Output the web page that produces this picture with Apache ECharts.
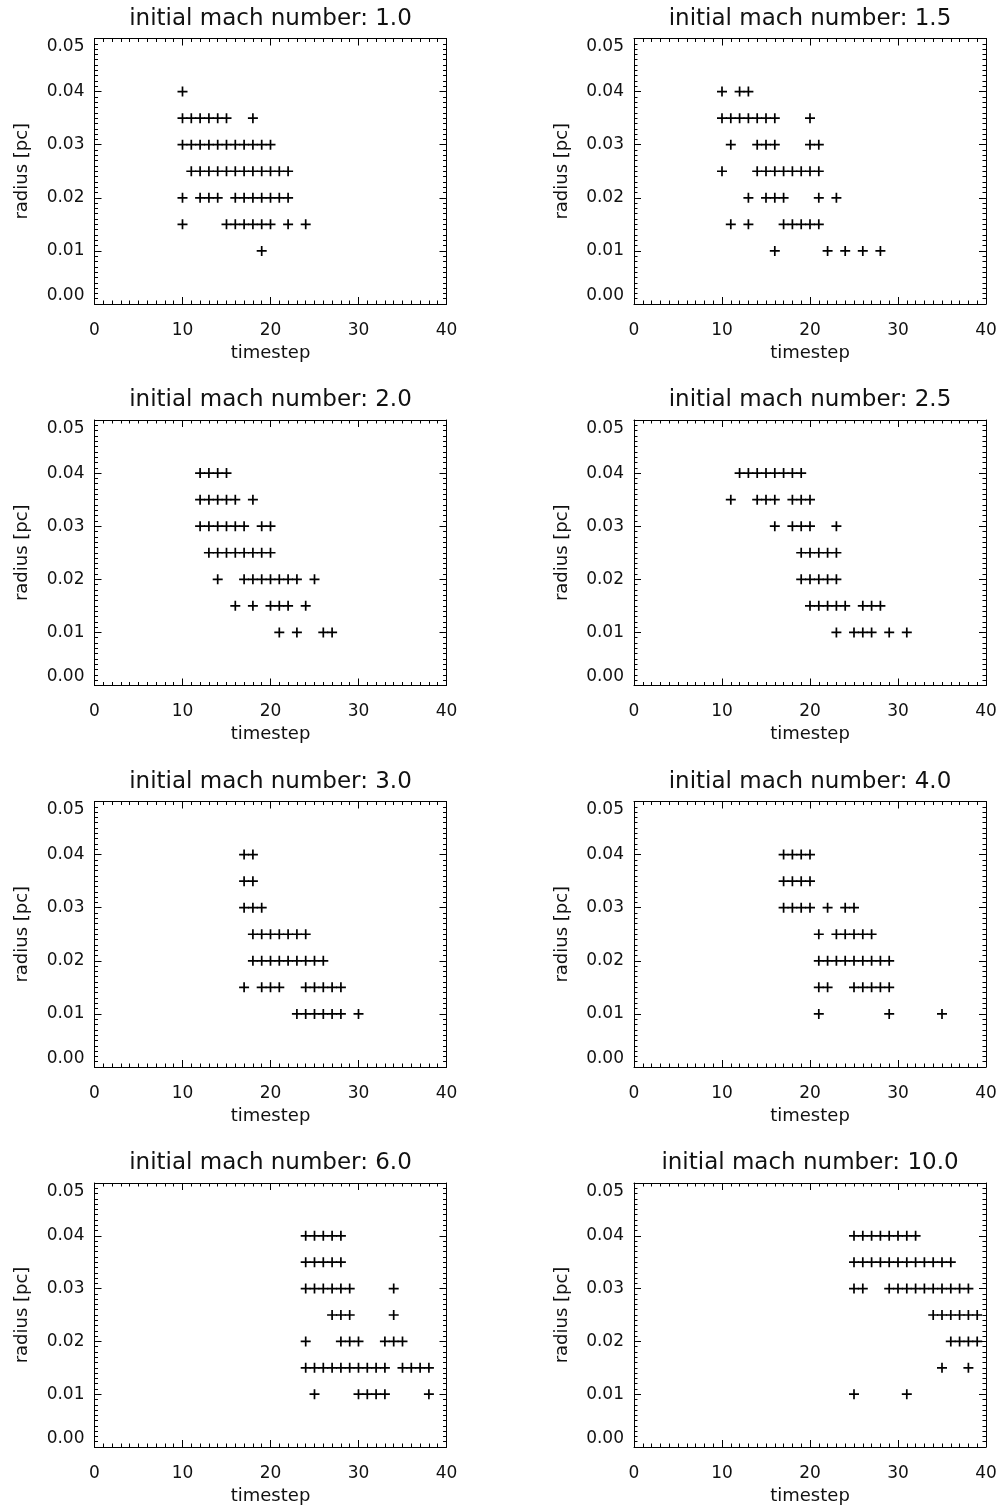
<!DOCTYPE html>
<html>
<head>
<meta charset="utf-8">
<script src="https://cdn.jsdelivr.net/npm/echarts@6/dist/echarts.min.js"></script>
<style>
html,body{margin:0;padding:0;background:#fff;}
#chart{width:1002px;height:1506px;}
</style>
</head>
<body>
<div id="chart"></div>
<script>
// Radius levels (pc), one row of markers per level, top to bottom
const radii = [0.04, 0.035, 0.03, 0.025, 0.02, 0.015, 0.01];
const machLabels = ['1.0', '1.5', '2.0', '2.5', '3.0', '4.0', '6.0', '10.0'];
const xTicks = [0, 10, 20, 30, 40];
const yTicks = [0.00, 0.01, 0.02, 0.03, 0.04, 0.05];

// Timesteps with a marker, per radius level (same order as radii)
const mach_1_0 = [
  [10],
  [10, 11, 12, 13, 14, 15, 18],
  [10, 11, 12, 13, 14, 15, 16, 17, 18, 19, 20],
  [11, 12, 13, 14, 15, 16, 17, 18, 19, 20, 21, 22],
  [10, 12, 13, 14, 16, 17, 18, 19, 20, 21, 22],
  [10, 15, 16, 17, 18, 19, 20, 22, 24],
  [19]
];
const mach_1_5 = [
  [10, 12, 13],
  [10, 11, 12, 13, 14, 15, 16, 20],
  [11, 14, 15, 16, 20, 21],
  [10, 14, 15, 16, 17, 18, 19, 20, 21],
  [13, 15, 16, 17, 21, 23],
  [11, 13, 17, 18, 19, 20, 21],
  [16, 22, 24, 26, 28]
];
const mach_2_0 = [
  [12, 13, 14, 15],
  [12, 13, 14, 15, 16, 18],
  [12, 13, 14, 15, 16, 17, 19, 20],
  [13, 14, 15, 16, 17, 18, 19, 20],
  [14, 17, 18, 19, 20, 21, 22, 23, 25],
  [16, 18, 20, 21, 22, 24],
  [21, 23, 26, 27]
];
const mach_2_5 = [
  [12, 13, 14, 15, 16, 17, 18, 19],
  [11, 14, 15, 16, 18, 19, 20],
  [16, 18, 19, 20, 23],
  [19, 20, 21, 22, 23],
  [19, 20, 21, 22, 23],
  [20, 21, 22, 23, 24, 26, 27, 28],
  [23, 25, 26, 27, 29, 31]
];
const mach_3_0 = [
  [17, 18],
  [17, 18],
  [17, 18, 19],
  [18, 19, 20, 21, 22, 23, 24],
  [18, 19, 20, 21, 22, 23, 24, 25, 26],
  [17, 19, 20, 21, 24, 25, 26, 27, 28],
  [23, 24, 25, 26, 27, 28, 30]
];
const mach_4_0 = [
  [17, 18, 19, 20],
  [17, 18, 19, 20],
  [17, 18, 19, 20, 22, 24, 25],
  [21, 23, 24, 25, 26, 27],
  [21, 22, 23, 24, 25, 26, 27, 28, 29],
  [21, 22, 25, 26, 27, 28, 29],
  [21, 29, 35]
];
const mach_6_0 = [
  [24, 25, 26, 27, 28],
  [24, 25, 26, 27, 28],
  [24, 25, 26, 27, 28, 29, 34],
  [27, 28, 29, 34],
  [24, 28, 29, 30, 33, 34, 35],
  [24, 25, 26, 27, 28, 29, 30, 31, 32, 33, 35, 36, 37, 38],
  [25, 30, 31, 32, 33, 38]
];
const mach_10_0 = [
  [25, 26, 27, 28, 29, 30, 31, 32],
  [25, 26, 27, 28, 29, 30, 31, 32, 33, 34, 35, 36],
  [25, 26, 29, 30, 31, 32, 33, 34, 35, 36, 37, 38],
  [34, 35, 36, 37, 38, 39],
  [36, 37, 38, 39],
  [35, 38],
  [25, 31]
];
const panels = [mach_1_0, mach_1_5, mach_2_0, mach_2_5, mach_3_0, mach_4_0, mach_6_0, mach_10_0];

// ---- layout ----
const colLeft = [94.5, 634];
const rowTop = [38.5, 420, 801.5, 1183];
const plotW = 352, plotH = 265.5;
const FONT = 'DejaVu Sans';
const TXT = '#111';
const PLUS = 'path://M-0.17,-1L0.17,-1L0.17,-0.17L1,-0.17L1,0.17L0.17,0.17L0.17,1L-0.17,1L-0.17,0.17L-1,0.17L-1,-0.17L-0.17,-0.17Z';

const grids = [], xAxes = [], yAxes = [], series = [], titles = [];

function baseAxis(gi, min, max, interval) {
  return {
    gridIndex: gi, type: 'value', min: min, max: max, interval: interval,
    axisLine: { show: true, onZero: false, lineStyle: { color: '#000', width: 1 } },
    axisTick: { show: true, inside: true, length: 7, lineStyle: { color: '#000', width: 1 } },
    minorTick: { show: true, splitNumber: 10, length: 3.5, lineStyle: { color: '#000', width: 1 } },
    splitLine: { show: false },
    minorSplitLine: { show: false }
  };
}

panels.forEach(function (rows, i) {
  const col = i % 2, row = Math.floor(i / 2);
  const left = colLeft[col], top = rowTop[row];
  grids.push({ left: left, top: top, width: plotW, height: plotH, show: false });

  titles.push({
    text: 'initial mach number: ' + machLabels[i],
    left: left + plotW / 2, top: top - 31, textAlign: 'center', padding: 0,
    textStyle: { fontFamily: FONT, fontSize: 23, fontWeight: 'normal', color: TXT }
  });

  const xb = baseAxis(i, xTicks[0], xTicks[xTicks.length - 1], xTicks[1] - xTicks[0]);
  xb.position = 'bottom';
  xb.name = 'timestep';
  xb.nameLocation = 'middle';
  xb.nameGap = 40;
  xb.nameTextStyle = { fontFamily: FONT, fontSize: 18, color: TXT };
  xb.axisLabel = { show: true, margin: 18, fontFamily: FONT, fontSize: 17, color: TXT };
  xAxes.push(xb);

  const xt = baseAxis(i, xTicks[0], xTicks[xTicks.length - 1], xTicks[1] - xTicks[0]);
  xt.position = 'top';
  xt.axisLabel = { show: false };
  xAxes.push(xt);

  const yl = baseAxis(i, yTicks[0], yTicks[yTicks.length - 1], 0.01);
  yl.position = 'left';
  yl.name = 'radius [pc]';
  yl.nameLocation = 'middle';
  yl.nameRotate = 90;
  yl.nameGap = 63;
  yl.nameTextStyle = { fontFamily: FONT, fontSize: 18, color: TXT };
  yl.axisLabel = {
    show: true, margin: 10, fontFamily: FONT, fontSize: 17, color: TXT,
    verticalAlignMinLabel: 'bottom', verticalAlignMaxLabel: 'top',
    formatter: function (v) { return v.toFixed(2); }
  };
  yAxes.push(yl);

  const yr = baseAxis(i, yTicks[0], yTicks[yTicks.length - 1], 0.01);
  yr.position = 'right';
  yr.axisLabel = { show: false };
  yAxes.push(yr);

  const data = [];
  rows.forEach(function (steps, k) {
    steps.forEach(function (t) { data.push([t, radii[k]]); });
  });
  series.push({
    type: 'scatter', xAxisIndex: 2 * i, yAxisIndex: 2 * i,
    data: data, symbol: PLUS, symbolSize: 10,
    itemStyle: { color: '#000', opacity: 1 },
    silent: true
  });
});

const chart = echarts.init(document.getElementById('chart'), null, { renderer: 'canvas' });
chart.setOption({
  backgroundColor: '#fff',
  animation: false,
  title: titles,
  grid: grids,
  xAxis: xAxes,
  yAxis: yAxes,
  series: series
});
</script>
</body>
</html>
